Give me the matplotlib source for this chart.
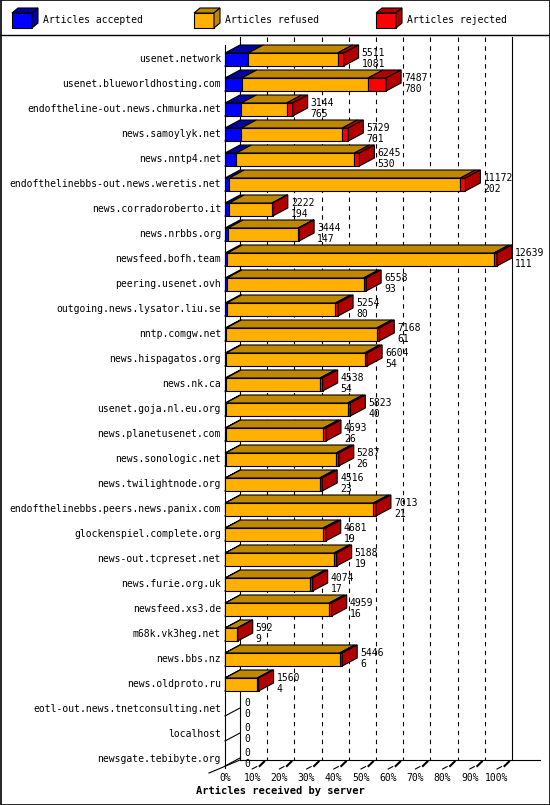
import matplotlib
matplotlib.use('Agg')
import matplotlib.pyplot as plt
from matplotlib.patches import Polygon, Rectangle

plt.rcParams['font.family'] = 'DejaVu Sans Mono'

servers = ['usenet.network', 'usenet.blueworldhosting.com', 'endoftheline-out.news.chmurka.net',
           'news.samoylyk.net', 'news.nntp4.net', 'endofthelinebbs-out.news.weretis.net',
           'news.corradoroberto.it', 'news.nrbbs.org', 'newsfeed.bofh.team', 'peering.usenet.ovh',
           'outgoing.news.lysator.liu.se', 'nntp.comgw.net', 'news.hispagatos.org', 'news.nk.ca',
           'usenet.goja.nl.eu.org', 'news.planetusenet.com', 'news.sonologic.net',
           'news.twilightnode.org', 'endofthelinebbs.peers.news.panix.com',
           'glockenspiel.complete.org', 'news-out.tcpreset.net', 'news.furie.org.uk',
           'newsfeed.xs3.de', 'm68k.vk3heg.net', 'news.bbs.nz', 'news.oldproto.ru',
           'eotl-out.news.tnetconsulting.net', 'localhost', 'newsgate.tebibyte.org']
offered = [5511, 7487, 3144, 5729, 6245, 11172, 2222, 3444, 12639, 6558, 5254, 7168, 6604,
           4538, 5823, 4693, 5287, 4516, 7013, 4681, 5188, 4074, 4959, 592, 5446, 1560, 0, 0, 0]
accepted = [1081, 780, 765, 761, 530, 202, 194, 147, 111, 93, 80, 61, 54, 54, 40, 26, 26, 23,
            21, 19, 19, 17, 16, 9, 6, 4, 0, 0, 0]
rejected = [280, 840, 280, 280, 230, 230, 40, 40, 140, 120, 120, 120, 120, 120, 120, 120, 120,
            120, 120, 120, 120, 120, 120, 30, 120, 60, 0, 0, 0]
ticks = list(range(0, 101, 10))

W, H = 550, 805
fig = plt.figure(figsize=(W / 100, H / 100), dpi=100)
ax = fig.add_axes([0, 0, 1, 1])
ax.set_xlim(0, W)
ax.set_ylim(H, 0)
ax.axis('off')

X0, X100 = 225, 497
DX, DY = 15, 8
Y0, STEP = 59, 25
FLOOR = 768
FS = 7
vmax = max(offered)


def px(v):
    return X0 + (X100 - X0) * v / vmax


def box3d(x0, x1, y0, y1, front, top, side=None, lw=0.8):
    ax.add_patch(Polygon([(x0, y0), (x0 + DX, y0 - DY), (x1 + DX, y0 - DY), (x1, y0)],
                         closed=True, fc=top, ec='black', lw=lw, zorder=3))
    ax.add_patch(Rectangle((x0, y0), x1 - x0, y1 - y0, fc=front, ec='black', lw=lw, zorder=3))
    if side:
        ax.add_patch(Polygon([(x1, y0), (x1 + DX, y0 - DY), (x1 + DX, y1 - DY), (x1, y1)],
                             closed=True, fc=side, ec='black', lw=lw, zorder=3))


# frame, legend
ax.add_patch(Rectangle((0.5, 0.5), W - 1, H - 1, fill=False, ec='black', lw=1.2))
ax.plot([0, W], [35, 35], color='black', lw=1)
legend = [('Articles accepted', '#0000ff', '#0000a0'),
          ('Articles refused', '#ffb000', '#c08800'),
          ('Articles rejected', '#ff0000', '#b00000')]
for i, (lab, fc, dc) in enumerate(legend):
    lx = 12 + i * 182
    ax.add_patch(Rectangle((lx, 13), 20, 15, fc=fc, ec='black', lw=0.8))
    ax.add_patch(Polygon([(lx, 13), (lx + 6, 8), (lx + 26, 8), (lx + 20, 13)], fc=dc, ec='black', lw=0.8))
    ax.add_patch(Polygon([(lx + 20, 13), (lx + 26, 8), (lx + 26, 23), (lx + 20, 28)], fc=dc, ec='black', lw=0.8))
    ax.text(lx + 31, 20, lab, fontsize=FS, va='center', ha='left')

# axes frame
ax.plot([X0, X0], [45, FLOOR], color='black', lw=0.8)
ax.plot([X0 + DX, X0 + DX], [37, FLOOR - DY], color='black', lw=0.8)
ax.plot([px(vmax) + DX, px(vmax) + DX], [37, FLOOR - DY], color='black', lw=0.8)
ax.plot([X0 + DX, W - 10], [FLOOR - DY, FLOOR - DY], color='black', lw=0.8)
ax.plot([X0 - 16, X0 + DX], [FLOOR + 5, FLOOR - DY], color='black', lw=0.8)
for t in ticks:
    x = X0 + (X100 - X0) * t / 100
    if 0 < t < 100:
        ax.plot([x + DX, x + DX], [37, FLOOR - DY], color='black', lw=0.8, ls=(0, (4, 4)))
    if t > 0:
        ax.plot([x, x + DX * 0.3], [FLOOR + 1, FLOOR - DY * 0.3 + 1], color='black', lw=0.8)
        ax.plot([x + DX * 0.5, x + DX * 0.8], [FLOOR - 2, FLOOR - DY * 0.8], color='black', lw=1.5)
    ax.text(x, FLOOR + 10, f'{t}%', fontsize=FS, ha='center', va='center')
ax.text(280, 791, 'Articles received by server', fontsize=FS + 0.5, fontweight='bold',
        ha='center', va='center')

# bars
for i, name in enumerate(servers):
    yc = Y0 + i * STEP
    ax.plot([X0, X0 + DX], [yc + 7, yc + 7 - DY], color='black', lw=0.8, zorder=2)
    ax.text(X0 - 4, yc, name, fontsize=FS, ha='right', va='center')
    tot = offered[i]
    if tot > 0:
        refused = tot - accepted[i] - rejected[i]
        a = px(accepted[i])
        r = px(accepted[i] + refused)
        e = px(tot)
        y0, y1 = yc - 6, yc + 7
        box3d(X0, a, y0, y1, '#0000ff', '#0000a0')
        box3d(a, r, y0, y1, '#ffb000', '#c08800')
        box3d(r, e, y0, y1, '#ff0000', '#b00000', '#b00000')
        lx = e + DX + 3
    else:
        lx = X0 + DX + 4
    ax.text(lx, yc - 6, str(tot), fontsize=FS, ha='left', va='center', zorder=4)
    ax.text(lx, yc + 5, str(accepted[i]), fontsize=FS, ha='left', va='center', zorder=4)

fig.savefig('out.png', dpi=100)
